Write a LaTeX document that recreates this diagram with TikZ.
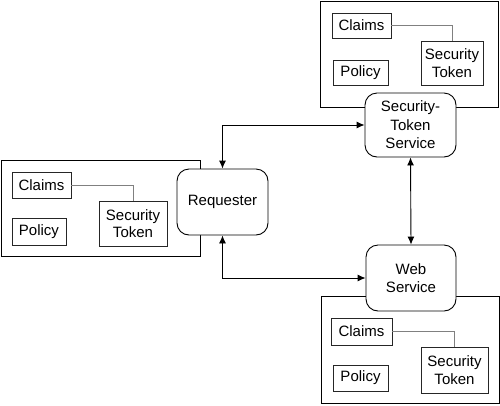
\documentclass[tikz,border=0pt]{standalone}
\usepackage{fontspec}
\setmainfont{Liberation Sans}
\usetikzlibrary{arrows.meta}
\begin{document}
\begin{tikzpicture}[x=1pt,y=-1pt,
  container/.style={draw=black, line width=0.9pt, fill=white, inner sep=0pt},
  item/.style={draw=black!85, line width=0.8pt, fill=white, inner sep=0pt, align=center, font=\fontsize{15}{17.5}\selectfont},
  service/.style={draw=black, line width=0.9pt, fill=white, rounded corners=12pt, inner sep=0pt, align=center, font=\fontsize{15}{18.5}\selectfont},
  link/.style={draw=black!50, line width=0.7pt},
  arr/.style={draw=black, line width=0.9pt, {Latex[length=8pt,width=7pt]}-{Latex[length=8pt,width=7pt]}}
]
\useasboundingbox (0,0) rectangle (500,405);
\fill[white] (0,0) rectangle (500,405);

% top-right container
\node[container, minimum width=178pt, minimum height=106pt] (ctr) at (409,54) {};
\node[item, minimum width=59pt, minimum height=25pt] (clTR) at (361.5,25.5) {Claims};
\node[item, minimum width=62pt, minimum height=44pt] (tkTR) at (452,63) {Security\\Token};
\node[item, minimum width=55pt, minimum height=25pt] (poTR) at (360.5,72.5) {Policy};
\draw[link] (clTR.east) -| (tkTR.north);

% left container
\node[container, minimum width=199pt, minimum height=96pt] (cl) at (100.5,208) {};
\node[item, minimum width=59pt, minimum height=26pt] (clL) at (41.5,185) {Claims};
\node[item, minimum width=68pt, minimum height=45pt] (tkL) at (133,223.5) {Security\\Token};
\node[item, minimum width=54pt, minimum height=27pt] (poL) at (39,231.5) {Policy};
\draw[link] (clL.east) -| (tkL.north);

% bottom-right container
\node[container, minimum width=178pt, minimum height=107pt] (cbr) at (410,349.5) {};
\node[item, minimum width=61pt, minimum height=27pt] (clBR) at (361.5,331.5) {Claims};
\node[item, minimum width=67pt, minimum height=46pt] (tkBR) at (454.5,370) {Security\\Token};
\node[item, minimum width=55pt, minimum height=26pt] (poBR) at (360.5,378) {Policy};
\draw[link] (clBR.east) -| (tkBR.north);

% services
\node[service, minimum width=91pt, minimum height=64pt] (sts) at (410.5,125) {Security-\\Token\\Service};
\node[service, minimum width=91pt, minimum height=66pt] (req) at (222.5,202) {Requester};
\node[service, minimum width=90pt, minimum height=66pt] (ws) at (411,278) {Web\\Service};

% arrows
\draw[arr] (req.north) |- (sts.west);
\draw[arr] (req.south) |- (ws.west);
\draw[arr] (sts.south) -- (ws.north);
\end{tikzpicture}
\end{document}
